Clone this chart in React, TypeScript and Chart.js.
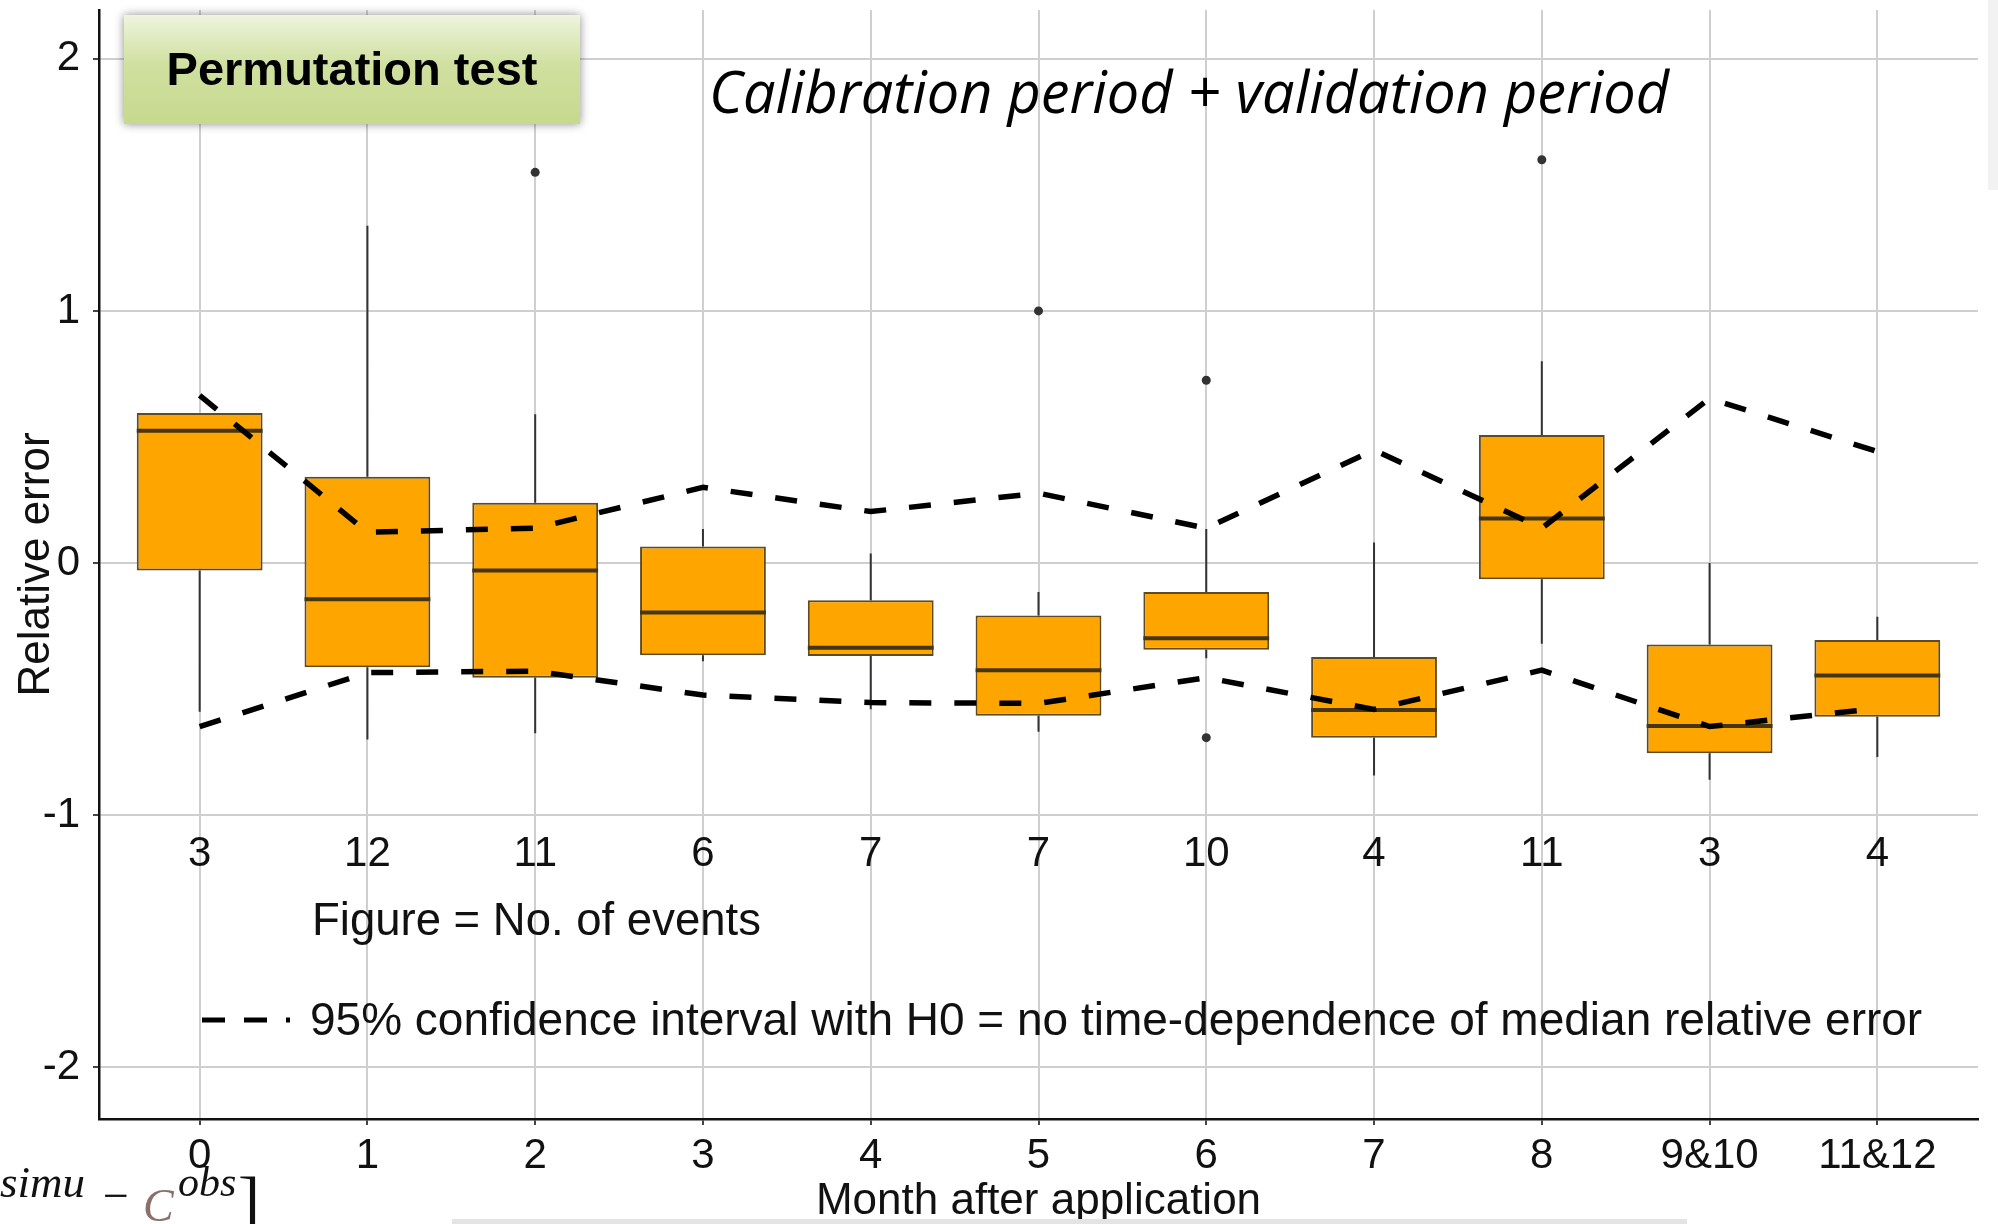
import React, { useEffect, useRef } from "react";
import { Chart, registerables } from "chart.js";

Chart.register(...registerables);

// ---------------- data ----------------
const MONTHS = ["0", "1", "2", "3", "4", "5", "6", "7", "8", "9&10", "11&12"];
const EVENTS = ["3", "12", "11", "6", "7", "7", "10", "4", "11", "3", "4"];

const WHISKER_LOW = [-0.59, -0.7, -0.676, -0.39, -0.58, -0.67, -0.378, -0.843, -0.32, -0.86, -0.77];
const Q1 = [-0.03, -0.414, -0.455, -0.366, -0.369, -0.606, -0.344, -0.693, -0.065, -0.755, -0.61];
const MEDIAN = [0.525, -0.144, -0.03, -0.196, -0.336, -0.426, -0.299, -0.583, 0.177, -0.647, -0.446];
const Q3 = [0.595, 0.342, 0.239, 0.065, -0.148, -0.208, -0.115, -0.373, 0.508, -0.323, -0.306];
const WHISKER_HIGH = [0.595, 1.338, 0.59, 0.135, 0.038, -0.115, 0.135, 0.081, 0.8, 0.0, -0.213];

const OUTLIER_X = [2, 5, 6, 6, 8];
const OUTLIER_Y = [1.55, 1.0, 0.725, -0.693, 1.6];

const CI_UPPER = [0.665, 0.122, 0.138, 0.3, 0.204, 0.277, 0.138, 0.448, 0.138, 0.653, 0.442];
const CI_LOWER = [-0.649, -0.435, -0.429, -0.524, -0.554, -0.557, -0.455, -0.581, -0.425, -0.649, -0.577];

const Y_TICKS = [-2, -1, 0, 1, 2];
const EVENT_LABEL_Y = -1.155;

const TITLE_BOX = "Permutation test";
const SUBTITLE = "Calibration period + validation period";
const EVENTS_NOTE = "Figure = No. of events";
const LEGEND_TEXT = "95% confidence interval with H0 = no time-dependence of median relative error";

// ---------------- styles ----------------
const FONT = '"Liberation Sans", Arial, Helvetica, sans-serif';
const SERIF = '"Liberation Serif", "DejaVu Serif", serif';
const BOX_HALF = 0.375;
const ORANGE = "#FFA500";
const BOX_EDGE = "#5e4b1f";
const MEDIAN_COLOR = "#45360f";
const GRID = "#cfcfcf";
const DASH = [22, 23];

const annotationPlugin = {
  id: "annotations",
  afterDraw(chart: any) {
    const { ctx } = chart;
    const x = chart.scales.x;
    const y = chart.scales.y;
    ctx.save();

    // event counts
    ctx.fillStyle = "#111";
    ctx.font = `42px ${FONT}`;
    ctx.textAlign = "center";
    ctx.textBaseline = "middle";
    EVENTS.forEach((t, i) => {
      ctx.fillText(t, x.getPixelForValue(i), y.getPixelForValue(EVENT_LABEL_Y));
    });

    // note
    ctx.font = `45.5px ${FONT}`;
    ctx.textAlign = "left";
    ctx.fillText(EVENTS_NOTE, 312, 922);

    // legend
    ctx.save();
    ctx.strokeStyle = "#000";
    ctx.lineWidth = 5;
    ctx.setLineDash([23, 19]);
    ctx.beginPath();
    ctx.moveTo(202, 1020);
    ctx.lineTo(290, 1020);
    ctx.stroke();
    ctx.restore();
    ctx.fillStyle = "#111";
    ctx.font = `46px ${FONT}`;
    ctx.textAlign = "left";
    ctx.textBaseline = "middle";
    ctx.fillText(LEGEND_TEXT, 310, 1022);

    // Permutation test box
    ctx.save();
    ctx.shadowColor = "rgba(0,0,0,0.45)";
    ctx.shadowBlur = 9;
    const g = ctx.createLinearGradient(0, 15, 0, 124);
    g.addColorStop(0, "#eef4de");
    g.addColorStop(0.45, "#d0e0a0");
    g.addColorStop(1, "#c6d98d");
    ctx.fillStyle = g;
    ctx.fillRect(124, 15, 456, 109);
    ctx.restore();
    ctx.fillStyle = "#000";
    ctx.font = `bold 47px ${FONT}`;
    ctx.textAlign = "center";
    ctx.textBaseline = "middle";
    ctx.fillText(TITLE_BOX, 352, 72);

    // subtitle (italic, condensed to width)
    ctx.save();
    ctx.font = `italic 58px "Open Sans", ${FONT}`;
    const w = ctx.measureText(SUBTITLE).width;
    ctx.translate(1189, 96);
    ctx.scale(960 / w, 1);
    ctx.fillStyle = "#000";
    ctx.textAlign = "center";
    ctx.textBaseline = "middle";
    ctx.fillText(SUBTITLE, 0, 0);
    ctx.restore();

    // cropped formula fragment at bottom-left
    ctx.fillStyle = "#111";
    ctx.textAlign = "left";
    ctx.textBaseline = "alphabetic";
    ctx.font = `italic 45px ${SERIF}`;
    ctx.fillText("simu", 0, 1197);
    ctx.font = `46px ${SERIF}`;
    ctx.fillText("\u2212", 103, 1211);
    ctx.fillStyle = "#8b6f6b";
    ctx.font = `italic 46px ${SERIF}`;
    ctx.fillText("C", 143, 1221);
    ctx.fillStyle = "#111";
    ctx.font = `italic 42px ${SERIF}`;
    ctx.fillText("obs", 178, 1196);
    ctx.font = `66px ${SERIF}`;
    ctx.fillText("]", 238, 1222);

    // slide remnants
    ctx.fillStyle = "#e4e4e4";
    ctx.fillRect(452, 1219, 1235, 5);
    ctx.fillStyle = "#f2f2f2";
    ctx.fillRect(1988, 0, 10, 190);

    ctx.restore();
  },
};

export default function App() {
  const ref = useRef<HTMLCanvasElement | null>(null);

  useEffect(() => {
    document.body.style.margin = "0";
    document.body.style.overflow = "hidden";
    const canvas = ref.current;
    if (!canvas) return;

    const boxData = MONTHS.map((_, i) => ({ x: i, y: [Q1[i], Q3[i]] }));
    const whiskerData: any[] = [];
    const medianData: any[] = [];
    MONTHS.forEach((_, i) => {
      whiskerData.push(
        { x: i, y: WHISKER_LOW[i] },
        { x: i, y: Q1[i] },
        { x: i, y: null },
        { x: i, y: Q3[i] },
        { x: i, y: WHISKER_HIGH[i] },
        { x: i, y: null }
      );
      medianData.push(
        { x: i - BOX_HALF, y: MEDIAN[i] },
        { x: i + BOX_HALF, y: MEDIAN[i] },
        { x: i, y: null }
      );
    });
    const outlierData = OUTLIER_X.map((xv, i) => ({ x: xv, y: OUTLIER_Y[i] }));
    const upperData = MONTHS.map((_, i) => ({ x: i, y: CI_UPPER[i] }));
    const lowerData = MONTHS.map((_, i) => ({ x: i, y: CI_LOWER[i] }));

    Chart.defaults.font.family = FONT;
    Chart.defaults.color = "#111";

    const chart = new Chart(canvas, {
      type: "bar",
      data: {
        datasets: [
          {
            type: "bar",
            data: boxData as any,
            backgroundColor: ORANGE,
            borderColor: BOX_EDGE,
            borderWidth: 2,
            borderSkipped: false,
            barPercentage: 2 * BOX_HALF,
            categoryPercentage: 1,
            order: 5,
          } as any,
          {
            type: "line",
            data: whiskerData,
            borderColor: "#333",
            borderWidth: 2,
            pointRadius: 0,
            spanGaps: false,
            tension: 0,
            order: 6,
          } as any,
          {
            type: "line",
            data: medianData,
            borderColor: MEDIAN_COLOR,
            borderWidth: 4,
            pointRadius: 0,
            spanGaps: false,
            tension: 0,
            order: 4,
          } as any,
          {
            type: "line",
            data: upperData,
            borderColor: "#000",
            borderWidth: 5.5,
            borderDash: DASH,
            borderCapStyle: "butt",
            pointRadius: 0,
            tension: 0,
            order: 2,
          } as any,
          {
            type: "line",
            data: lowerData,
            borderColor: "#000",
            borderWidth: 5.5,
            borderDash: DASH,
            borderCapStyle: "butt",
            pointRadius: 0,
            tension: 0,
            order: 2,
          } as any,
          {
            type: "scatter",
            data: outlierData,
            backgroundColor: "#333",
            borderWidth: 0,
            pointRadius: 4.5,
            order: 1,
          } as any,
        ],
      },
      options: {
        responsive: false,
        animation: false,
        devicePixelRatio: 1,
        layout: { padding: { top: 10, right: 20, left: 0, bottom: 0 } },
        plugins: {
          legend: { display: false },
          tooltip: { enabled: false },
          title: { display: false },
        },
        scales: {
          x: {
            type: "linear",
            min: -0.6,
            max: 10.6,
            offset: false,
            afterFit: (s: any) => {
              s.height = 105;
              s.paddingLeft = 0;
              s.paddingRight = 0;
            },
            afterBuildTicks: (s: any) => {
              s.ticks = MONTHS.map((_, i) => ({ value: i }));
            },
            ticks: {
              autoSkip: false,
              maxRotation: 0,
              padding: 6,
              color: "#111",
              font: { size: 42 },
              callback: (v: any) => MONTHS[Math.round(Number(v))] ?? "",
            },
            grid: {
              offset: false,
              color: GRID,
              lineWidth: 2,
              tickLength: 6,
              tickColor: "#444",
              tickWidth: 2,
            },
            border: { display: true, color: "#111", width: 2.5 },
            title: {
              display: true,
              text: "Month after application",
              color: "#111",
              font: { size: 44 },
              padding: { top: 0, bottom: -4 },
            },
          },
          y: {
            type: "linear",
            min: -2.206,
            max: 2.194,
            afterFit: (s: any) => {
              s.width = 99;
              s.paddingTop = 0;
              s.paddingBottom = 0;
            },
            afterBuildTicks: (s: any) => {
              s.ticks = Y_TICKS.map((v) => ({ value: v }));
            },
            ticks: {
              padding: 13,
              color: "#111",
              font: { size: 42 },
              callback: (v: any) => String(v),
            },
            grid: {
              color: GRID,
              lineWidth: 2,
              tickLength: 6,
              tickColor: "#444",
              tickWidth: 2,
            },
            border: { display: true, color: "#111", width: 2.5 },
            title: {
              display: true,
              text: "Relative error",
              color: "#111",
              font: { size: 44 },
              padding: { top: 10, bottom: 0 },
            },
          },
        },
      } as any,
      plugins: [annotationPlugin],
    });

    return () => chart.destroy();
  }, []);

  return (
    <div style={{ width: 1998, height: 1224, position: "relative", background: "#fff" }}>
      <canvas ref={ref} width={1998} height={1224} style={{ display: "block" }} />
    </div>
  );
}
